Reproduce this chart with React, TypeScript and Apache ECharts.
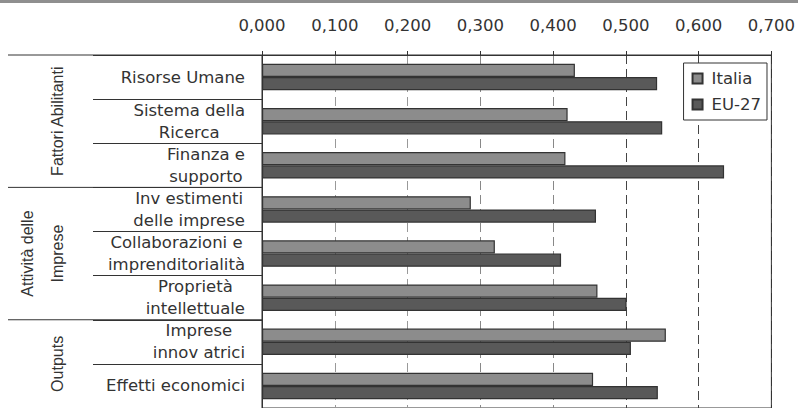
import React, { useEffect, useRef } from "react";
import * as echarts from "echarts";

const categories = [
  "Risorse Umane",
  "Sistema della\nRicerca",
  "Finanza e\nsupporto",
  "Inv estimenti\ndelle imprese",
  "Collaborazioni e\nimprenditorialità",
  "Proprietà\nintellettuale",
  "Imprese\ninnov atrici",
  "Effetti economici",
];
const italia = [0.43, 0.42, 0.417, 0.287, 0.32, 0.461, 0.555, 0.455];
const eu27 = [0.543, 0.55, 0.635, 0.459, 0.411, 0.501, 0.507, 0.544];
const seriesNames = ["Italia", "EU-27"];
const groupNames = ["Fattori Abilitanti", "Attività delle\nImprese", "Outputs"];
const groupStart = [0, 3, 6];
const groupEnd = [2, 5, 7];
const axisMin = 0;
const axisMax = 0.7;
const axisStep = 0.1;

const FONT = "DejaVu Sans";
const NARROW = "Liberation Sans Narrow, Liberation Sans, Arial";
const FS = 16.5;

export default function App() {
  const ref = useRef<HTMLDivElement>(null);
  useEffect(() => {
    if (!ref.current) return;
    const chart = echarts.init(ref.current, undefined, { renderer: "svg" });
    const option: any = {
      animation: false,
      backgroundColor: "#fff",
      grid: {
        left: 262,
        right: 22,
        top: 55,
        height: 360,
        show: true,
        borderColor: "#333",
        borderWidth: 1,
        backgroundColor: "transparent",
      },
      legend: {
        data: seriesNames,
        orient: "vertical",
        right: 31,
        top: 63,
        backgroundColor: "#fff",
        borderColor: "#333",
        borderWidth: 1,
        padding: [7, 6, 7, 8],
        itemWidth: 10,
        itemHeight: 10,
        itemGap: 9,
        icon: "rect",
        textStyle: {
          fontFamily: FONT,
          fontSize: FS,
          color: "#333",
          padding: [0, 0, 0, 4],
        },
      },
      xAxis: {
        type: "value",
        position: "top",
        min: axisMin,
        max: axisMax,
        interval: axisStep,
        axisLine: { show: true, lineStyle: { color: "#333", width: 1 } },
        axisTick: { show: true, length: 4, lineStyle: { color: "#333" } },
        axisLabel: {
          margin: 21,
          fontFamily: FONT,
          fontSize: FS,
          color: "#333",
          formatter: (v: number) => v.toFixed(3).replace(".", ","),
        },
        splitLine: {
          show: true,
          lineStyle: {
            color: ["#333", "#999", "#999", "#888", "#888", "#444", "#444", "#333"],
            type: [9, 5],
            width: 1,
          },
        },
      },
      yAxis: {
        type: "category",
        inverse: true,
        data: categories,
        axisLine: { show: true, lineStyle: { color: "#333", width: 1 } },
        axisTick: {
          show: true,
          length: 169,
          lineStyle: { color: "#333", width: 1 },
        },
        axisLabel: {
          margin: 17,
          align: "right",
          color: "#333",
          fontFamily: FONT,
          fontSize: FS,
          lineHeight: 22,
          formatter: (v: string) =>
            v
              .split("\n")
              .map((l) => "{c|" + l + "}")
              .join("\n"),
          rich: {
            c: {
              align: "center",
              fontFamily: FONT,
              fontSize: FS,
              lineHeight: 22,
              color: "#333",
            },
          },
        },
      },
      series: [
        {
          name: seriesNames[0],
          type: "bar",
          data: italia,
          barGap: "0%",
          barCategoryGap: "40%",
          itemStyle: { color: "#8c8c8c", borderColor: "#333", borderWidth: 1.2 },
        },
        {
          name: seriesNames[1],
          type: "bar",
          data: eu27,
          barGap: "0%",
          barCategoryGap: "40%",
          itemStyle: { color: "#595959", borderColor: "#333", borderWidth: 1.2 },
        },
      ],
    };
    chart.setOption(option);

    const c0 = chart.convertToPixel({ yAxisIndex: 0 }, 0) as number;
    const c1 = chart.convertToPixel({ yAxisIndex: 0 }, 1) as number;
    const band = c1 - c0;
    const xAxis0 = chart.convertToPixel({ xAxisIndex: 0 }, axisMin) as number;
    const graphic: any[] = [
      {
        type: "rect",
        shape: { x: 0, y: 0, width: 798, height: 3 },
        style: { fill: "#8f8f8f" },
        silent: true,
      },
    ];
    groupNames.forEach((name, gi) => {
      const top = (chart.convertToPixel({ yAxisIndex: 0 }, groupStart[gi]) as number) - band / 2;
      const bottom = (chart.convertToPixel({ yAxisIndex: 0 }, groupEnd[gi]) as number) + band / 2;
      graphic.push({
        type: "line",
        shape: { x1: 8, y1: top, x2: xAxis0, y2: top },
        style: { stroke: "#333", lineWidth: 1 },
        silent: true,
      });
      const lines = name.split("\n").length;
      graphic.push({
        type: "text",
        x: lines > 1 ? 42 : 57,
        y: (top + bottom) / 2,
        rotation: Math.PI / 2,
        silent: true,
        style: {
          text: name,
          align: "center",
          verticalAlign: "middle",
          fontFamily: NARROW,
          fontSize: 16,
          lineHeight: 30,
          fill: "#333",
        },
      });
    });
    chart.setOption({ graphic });
    return () => chart.dispose();
  }, []);
  return (
    <div
      ref={ref}
      style={{ position: "fixed", left: 0, top: 0, width: 798, height: 408, background: "#fff" }}
    />
  );
}
